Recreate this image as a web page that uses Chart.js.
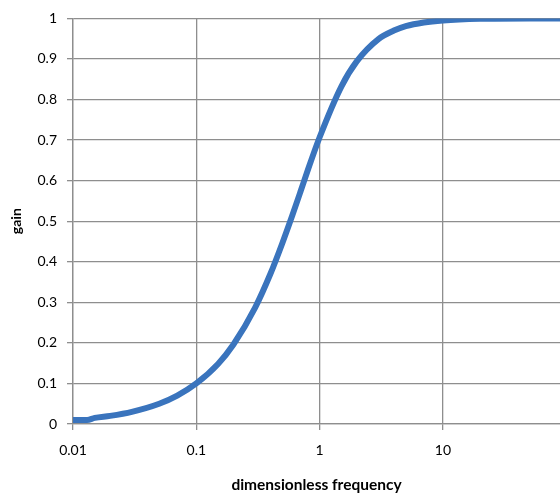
<!DOCTYPE html>
<html>
<head>
<meta charset="utf-8">
<script src="https://cdn.jsdelivr.net/npm/chart.js@4"></script>
<style>
  html, body { margin: 0; padding: 0; overflow: hidden; background: #fff; }
  #myChart { position: absolute; left: 0; top: 0; width: 560px; height: 493px; }
</style>
</head>
<body>
<canvas id="myChart" width="560" height="493"></canvas>
<script>
// values
var freq = [0.01, 0.013, 0.015, 0.02, 0.03, 0.05, 0.07, 0.1, 0.15, 0.2, 0.3, 0.4, 0.5, 0.6, 0.7, 0.8, 1, 1.5, 2, 3, 4, 5, 7, 10, 20, 50, 100];
var gain = [0.01, 0.01, 0.015, 0.02, 0.03, 0.05, 0.07, 0.1, 0.148, 0.196, 0.287, 0.371, 0.447, 0.514, 0.573, 0.625, 0.707, 0.832, 0.894, 0.949, 0.97, 0.981, 0.99, 0.995, 0.999, 1, 1];
var xTicks = [0.01, 0.1, 1, 10];
var xTickLabels = ['0.01', '0.1', '1', '10'];

var gridColor = '#8e8e8e';
var fontFam = 'Lato, "Open Sans", sans-serif';

var points = freq.map(function (f, i) { return { x: f, y: gain[i] }; });

var chartData = {
    type: 'line',
    data: {
        datasets: [{
            label: 'gain',
            data: points,
            borderColor: '#3a74bd',
            borderWidth: 6,
            pointRadius: 0,
            fill: false,
            cubicInterpolationMode: 'monotone'
        }]
    },
    options: {
        responsive: false,
        devicePixelRatio: 1,
        animation: false,
        layout: { padding: { top: 15, right: 0, left: 0, bottom: 0 } },
        plugins: { legend: { display: false }, tooltip: { enabled: false } },
        scales: {
            x: {
                type: 'logarithmic',
                min: 0.01,
                max: 89,   // picture is cut off at the right edge
                afterBuildTicks: function (scale) {
                    scale.ticks = xTicks.map(function (v) { return { value: v }; });
                },
                afterFit: function (scale) { scale.height = 69; },
                ticks: {
                    autoSkip: false,
                    maxRotation: 0,
                    padding: 12,
                    color: '#000',
                    font: { family: fontFam, size: 14 },
                    callback: function (v) {
                        var i = xTicks.indexOf(v);
                        return i >= 0 ? xTickLabels[i] : '';
                    }
                },
                grid: { color: gridColor, lineWidth: 1.3, tickLength: 6 },
                border: { color: gridColor, width: 1.3 },
                title: {
                    display: true,
                    text: 'dimensionless frequency',
                    color: '#000',
                    font: { family: fontFam, size: 15.5, weight: 'bold', lineHeight: 1 },
                    padding: { top: 0, bottom: 0 }
                }
            },
            y: {
                min: 0,
                max: 1,
                afterFit: function (scale) { scale.width = 73; },
                ticks: {
                    stepSize: 0.1,
                    padding: 10,
                    color: '#000',
                    font: { family: fontFam, size: 14 },
                    callback: function (v) { return String(Math.round(v * 10) / 10); }
                },
                grid: { color: gridColor, lineWidth: 1.3, tickLength: 6 },
                border: { color: gridColor, width: 1.3 },
                title: {
                    display: true,
                    text: 'gain',
                    color: '#000',
                    font: { family: fontFam, size: 14, weight: 'bold' },
                    padding: { top: 8, bottom: 0 }
                }
            }
        }
    }
};

var chartArea = document.getElementById('myChart').getContext('2d');
var myChart = new Chart(chartArea, chartData);
</script>
</body>
</html>
